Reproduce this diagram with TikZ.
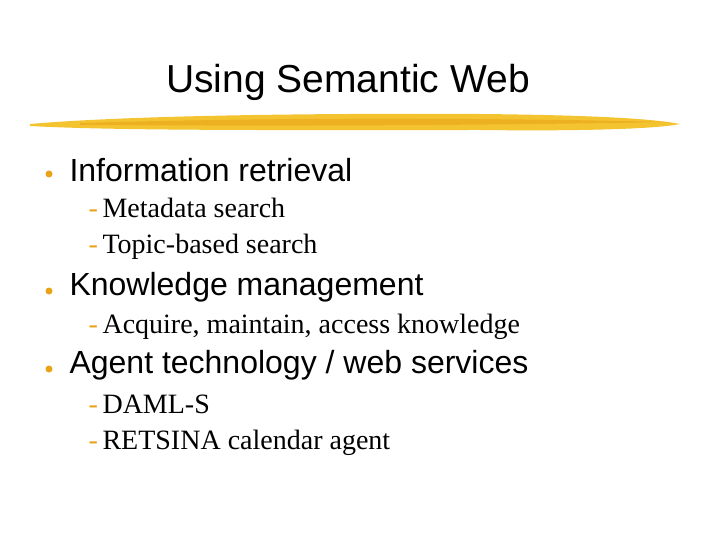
\documentclass[tikz,border=0pt]{standalone}
\usepackage{fontspec}
\setmainfont{Liberation Serif}
\setsansfont{Liberation Sans}
\definecolor{brush}{HTML}{F4C430}
\definecolor{brushd}{HTML}{E8A317}
\definecolor{bul}{HTML}{E8A317}
\begin{document}
\begin{tikzpicture}[x=1pt,y=-1pt,
  title/.style={font=\sffamily\fontsize{39}{44}\selectfont,anchor=center},
  lvl1/.style={font=\sffamily\fontsize{32}{37}\selectfont,anchor=west},
  lvl2/.style={font=\rmfamily\fontsize{28}{32}\selectfont,anchor=base west},
  dot/.style={circle,fill=bul,inner sep=0pt,minimum size=7pt},
  dsh/.style={font=\rmfamily\fontsize{28}{32}\selectfont,text=bul,anchor=base west}]
\useasboundingbox (0,0) rectangle (720,540);
\fill[white] (0,0) rectangle (720,540);
\node[title] (t) at (348,82) {Using Semantic Web};
\fill[brush] (30,124) .. controls (120,116) and (300,113) .. (480,114)
  .. controls (580,115) and (650,118) .. (680,124)
  .. controls (650,130) and (560,131) .. (480,130)
  .. controls (300,130) and (120,131) .. (30,126) -- cycle;
\fill[brushd,opacity=0.6] (80,123) .. controls (250,118) and (450,117) .. (670,122)
  .. controls (450,126) and (250,126) .. (80,125) -- cycle;
\foreach \y/\txt in {170/{Information retrieval},287/{Knowledge management},365/{Agent technology / web services}}{
  \node[dot] at (49,\y+4) {};
  \node[lvl1] at (66,\y) {\txt};}
\foreach \y/\txt in {218/{Metadata search},254/{Topic-based search},333/{Acquire, maintain, access knowledge},413/{DAML-S},449/{RETSINA calendar agent}}{
  \node[dsh] at (85,\y) {-};
  \node[lvl2] at (99,\y) {\txt};}
\end{tikzpicture}
\end{document}
